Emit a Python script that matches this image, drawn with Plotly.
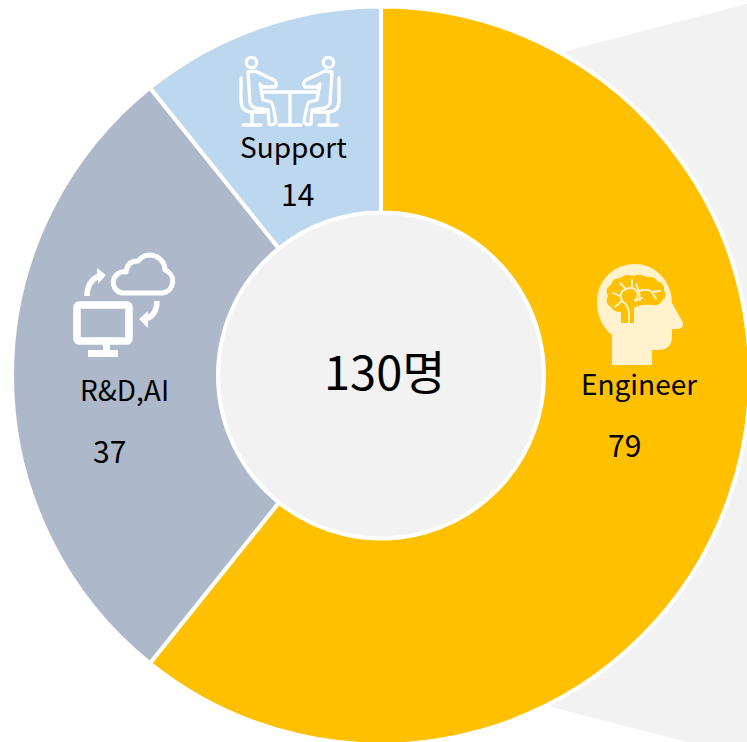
import base64
import plotly.graph_objects as go

categories = ["Engineer", "R&D,AI", "Support"]
values = [79, 37, 14]
colors = ["#FFC000", "#ADB9CA", "#BDD7EE"]
total_label = "130명"

W, H = 764, 752
CX, CY, R, R_IN = 381, 375.5, 369, 163
FONT = "Noto Sans CJK KR"

def px(x):
    return x / W

def py(y):
    return 1 - y / H

def svg_image(x, y, w, h, body):
    svg = (f'<svg xmlns="http://www.w3.org/2000/svg" width="{w*3}" height="{h*3}" '
           f'viewBox="{x} {y} {w} {h}">{body}</svg>')
    src = "data:image/svg+xml;base64," + base64.b64encode(svg.encode()).decode()
    return dict(source=src, xref="paper", yref="paper", x=px(x), y=py(y),
                sizex=w / W, sizey=h / H, xanchor="left", yanchor="top",
                sizing="stretch", layer="above")

brain_icon = """
<path fill="#FFF2CC" d="M612 365 L652 365 L652 350 L658 350 Q672 350 672 336 L672 329 L679 329 Q685 327 682 321
L672 303 C672 281 655 264 635 264 C613 264 597 281 597 302 C597 316 603 328 612 335 Z"/>
<path fill="#FFC000" d="M621 323 L621 312 Q613 312 611 307 Q604 303 608 296 Q604 288 611 285 Q612 278 620 278
Q626 273 633 276 Q640 273 646 277 Q654 276 657 281 Q665 283 664 290 Q668 296 662 301 Q660 306 652 305
Q640 304 634 308 L634 323 Z"/>
<g fill="none" stroke="#FFF2CC" stroke-width="1.9" stroke-linecap="round">
<path d="M629 323 L629 312 Q628 305 622 301 L615 307"/>
<path d="M622 301 Q618 292 626 289 Q634 286 637 292 Q639 298 635 300"/>
<path d="M640 300 L639 291 L636 284 M639 291 Q648 288 652 292 L656 299 M652 292 L660 291"/>
<path d="M620 296 L613 293 M625 288 L620 283 M632 287 L632 280 M635 301 L642 298"/>
</g>"""

support_left = """
<circle cx="251.5" cy="62.5" r="5.2" />
<path d="M248 72 L255 71 L274 80 Q278 83 275 87 L263 87 L260 84 L263 100 L271 102 Q273 103 276 122
Q273 126 269 124 L268 110 L255 108 Q251 106 250 103 Z"/>
<path d="M241 78 L241 100 Q241 112 252 112 L265 112"/>
<path d="M252 112 L252 125 M243 125 L261 125"/>"""
support_icon = f"""
<g fill="none" stroke="#FFFFFF" stroke-width="3.3" stroke-linecap="round" stroke-linejoin="round">
{support_left}
<g transform="translate(580 0) scale(-1 1)">{support_left}</g>
<path d="M264 92 L316 92 M290 92 L290 125 M279 125 L301 125"/>
</g>"""

cloud_icon = """
<rect x="77" y="305" width="52" height="36" rx="2" fill="none" stroke="#FFF" stroke-width="7.5"/>
<path fill="#FFF" d="M103 344 L110 344 L110 350 L118 350 L118 357 L88 357 L88 350 L103 350 Z"/>
<path fill="none" stroke="#FFF" stroke-width="5" stroke-linejoin="round"
d="M122 293 L163 293 A12 12 0 0 0 165 270 A15 15 0 0 0 138 261 Q127 261 126 272 A10.5 10.5 0 0 0 122 293 Z"/>
<g fill="none" stroke="#FFF" stroke-width="5.5">
<path d="M87 296 Q87 281 99 276"/>
<path d="M157 301 Q157 315 146 319"/>
</g>
<path fill="#FFF" d="M97 268 L106 275 L98 284 Z M148 311 L139 319 L148 328 Z"/>"""

images = [
    svg_image(590, 255, 100, 115, brain_icon),
    svg_image(235, 50, 110, 80, support_icon),
    svg_image(70, 250, 110, 110, cloud_icon),
]

fig = go.Figure(go.Pie(
    labels=categories, values=values, sort=False, direction="clockwise", rotation=0,
    hole=R_IN / R, textinfo="none", showlegend=False,
    marker=dict(colors=colors, line=dict(color="#FFFFFF", width=4)),
    domain=dict(x=[px(CX - R), px(CX + R)], y=[py(CY + R), py(CY - R)]),
))

wedge = (f"M {px(563)} {py(52)} L {px(800)} {py(-10)} L {px(800)} {py(771)} "
         f"L {px(551)} {py(707)} L {px(500)} {py(375)} Z")
shapes = [
    dict(type="path", xref="paper", yref="paper", path=wedge, layer="below",
         fillcolor="#F2F2F2", line=dict(width=0)),
    dict(type="circle", xref="paper", yref="paper", layer="below",
         x0=px(CX - R_IN), x1=px(CX + R_IN), y0=py(CY + R_IN), y1=py(CY - R_IN),
         fillcolor="#F2F2F2", line=dict(width=0)),
]

label_pos = {"Engineer": (639, 383), "R&D,AI": (124, 389), "Support": (293, 146)}
value_pos = {"Engineer": (624, 444), "R&D,AI": (109, 450), "Support": (297, 193)}

def note(x, y, text, size):
    return dict(xref="paper", yref="paper", x=px(x), y=py(y), text=text, showarrow=False,
                xanchor="center", yanchor="middle", font=dict(family=FONT, size=size, color="#000000"))

annotations = [note(385, 369, total_label, 47)]
for cat, val in zip(categories, values):
    annotations.append(note(*label_pos[cat], cat, 28))
    annotations.append(note(*value_pos[cat], str(val), 30))

fig.update_layout(width=W, height=H, autosize=False, margin=dict(l=0, r=0, t=0, b=0, pad=0),
                  paper_bgcolor="#FFFFFF", plot_bgcolor="#FFFFFF", shapes=shapes,
                  annotations=annotations, images=images)

fig.write_html("out.html", config={"displayModeBar": False, "responsive": False},
               post_script="document.body.style.margin='0';document.body.style.overflow='hidden';"
                           "document.documentElement.style.overflow='hidden';")
